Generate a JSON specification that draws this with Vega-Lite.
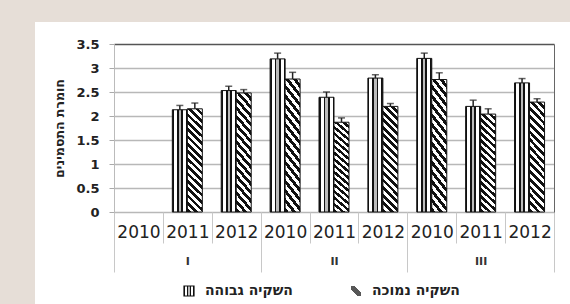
{
  "$schema": "https://vega.github.io/schema/vega-lite/v6.json",
  "width": 535,
  "height": 282,
  "autosize": {"type": "none"},
  "padding": {"left": 35, "top": 22, "right": 0, "bottom": 0},
  "background": "#e6ded7",
  "config": {"view": {"fill": "white", "stroke": null}, "font": "DejaVu Sans"},
  "data": {"values": [
    {"grp": "I", "cat": "I 2011", "s": "השקיה גבוהה", "v": 2.13, "hi": 2.22},
    {"grp": "I", "cat": "I 2011", "s": "השקיה נמוכה", "v": 2.15, "hi": 2.27},
    {"grp": "I", "cat": "I 2012", "s": "השקיה גבוהה", "v": 2.53, "hi": 2.62},
    {"grp": "I", "cat": "I 2012", "s": "השקיה נמוכה", "v": 2.48, "hi": 2.55},
    {"grp": "II", "cat": "II 2010", "s": "השקיה גבוהה", "v": 3.19, "hi": 3.31},
    {"grp": "II", "cat": "II 2010", "s": "השקיה נמוכה", "v": 2.77, "hi": 2.91},
    {"grp": "II", "cat": "II 2011", "s": "השקיה גבוהה", "v": 2.39, "hi": 2.5},
    {"grp": "II", "cat": "II 2011", "s": "השקיה נמוכה", "v": 1.87, "hi": 1.96},
    {"grp": "II", "cat": "II 2012", "s": "השקיה גבוהה", "v": 2.79, "hi": 2.86},
    {"grp": "II", "cat": "II 2012", "s": "השקיה נמוכה", "v": 2.2, "hi": 2.26},
    {"grp": "III", "cat": "III 2010", "s": "השקיה גבוהה", "v": 3.2, "hi": 3.31},
    {"grp": "III", "cat": "III 2010", "s": "השקיה נמוכה", "v": 2.76, "hi": 2.9},
    {"grp": "III", "cat": "III 2011", "s": "השקיה גבוהה", "v": 2.2, "hi": 2.33},
    {"grp": "III", "cat": "III 2011", "s": "השקיה נמוכה", "v": 2.04, "hi": 2.15},
    {"grp": "III", "cat": "III 2012", "s": "השקיה גבוהה", "v": 2.69, "hi": 2.78},
    {"grp": "III", "cat": "III 2012", "s": "השקיה נמוכה", "v": 2.29, "hi": 2.36}
  ]},
  "layer": [
    {
      "encoding": {
        "x": {
          "field": "cat", "type": "nominal",
          "scale": {"type": "band", "domain": ["I 2010", "I 2011", "I 2012", "II 2010", "II 2011", "II 2012", "III 2010", "III 2011", "III 2012"], "range": [79, 519], "paddingInner": 0, "paddingOuter": 0},
          "axis": {"orient": "bottom", "offset": -92, "title": null, "domain": false, "grid": false, "tickBand": "extent", "tickSize": 31, "tickColor": "#c8c8c8", "tickWidth": 1, "labelExpr": "slice(datum.label, -4)", "labelAngle": 0, "labelFont": "DejaVu Sans", "labelFontSize": 17, "labelColor": "#222", "labelPadding": -19}
        },
        "xOffset": {"field": "s", "type": "nominal", "scale": {"domain": ["השקיה גבוהה", "השקיה נמוכה"], "paddingInner": 0, "paddingOuter": 0.63}}
      },
      "layer": [
        {
          "mark": {"type": "bar", "strokeWidth": 1},
          "encoding": {
            "y": {
              "field": "v", "type": "quantitative",
              "scale": {"domain": [0, 3.5], "range": [190, 22], "nice": false, "zero": true},
              "axis": {"title": "חומרת התסמינים", "offset": -79, "values": [0, 0.5, 1, 1.5, 2, 2.5, 3, 3.5], "format": "~g", "grid": true, "gridColor": {"condition": {"test": "datum.value === 3.5", "value": "#555"}, "value": "#b8b8b8"}, "gridWidth": 1.5, "domain": true, "domainColor": "#bbb", "tickSize": 5, "tickColor": "#aaa", "labelFont": "DejaVu Sans", "labelFontWeight": "bold", "labelFontSize": 13, "labelColor": "#222", "labelPadding": 10, "titleFont": "DejaVu Sans", "titleFontWeight": "bold", "titleFontSize": 12.5, "titleColor": "#222", "titlePadding": 9}
            },
            "stroke": {
              "field": "s", "type": "nominal",
              "scale": {"domain": ["השקיה גבוהה", "השקיה נמוכה"], "range": ["#111", "#111"]},
              "legend": {
                "values": ["השקיה גבוהה"],
                "orient": "none", "legendX": 147, "legendY": 262, "direction": "horizontal", "title": null,
                "symbolType": "square", "symbolSize": 100, "symbolStrokeWidth": 1.2,
                "labelFont": "DejaVu Sans", "labelFontWeight": "bold", "labelFontSize": 14, "labelColor": "#222", "labelOffset": 9
              }
            },
            "fill": {
              "condition": {"test": "datum.s === 'השקיה נמוכה'", "value": {"gradient": "linear", "x1": 0, "y1": 1, "x2": 0.16, "y2": -0.12, "stops": [
                {"offset": 0, "color": "#111"}, {"offset": 0.03125, "color": "#111"}, {"offset": 0.03125, "color": "#fff"}, {"offset": 0.0625, "color": "#fff"},
                {"offset": 0.0625, "color": "#111"}, {"offset": 0.09375, "color": "#111"}, {"offset": 0.09375, "color": "#fff"}, {"offset": 0.125, "color": "#fff"},
                {"offset": 0.125, "color": "#111"}, {"offset": 0.15625, "color": "#111"}, {"offset": 0.15625, "color": "#fff"}, {"offset": 0.1875, "color": "#fff"},
                {"offset": 0.1875, "color": "#111"}, {"offset": 0.21875, "color": "#111"}, {"offset": 0.21875, "color": "#fff"}, {"offset": 0.25, "color": "#fff"},
                {"offset": 0.25, "color": "#111"}, {"offset": 0.28125, "color": "#111"}, {"offset": 0.28125, "color": "#fff"}, {"offset": 0.3125, "color": "#fff"},
                {"offset": 0.3125, "color": "#111"}, {"offset": 0.34375, "color": "#111"}, {"offset": 0.34375, "color": "#fff"}, {"offset": 0.375, "color": "#fff"},
                {"offset": 0.375, "color": "#111"}, {"offset": 0.40625, "color": "#111"}, {"offset": 0.40625, "color": "#fff"}, {"offset": 0.4375, "color": "#fff"},
                {"offset": 0.4375, "color": "#111"}, {"offset": 0.46875, "color": "#111"}, {"offset": 0.46875, "color": "#fff"}, {"offset": 0.5, "color": "#fff"},
                {"offset": 0.5, "color": "#111"}, {"offset": 0.53125, "color": "#111"}, {"offset": 0.53125, "color": "#fff"}, {"offset": 0.5625, "color": "#fff"},
                {"offset": 0.5625, "color": "#111"}, {"offset": 0.59375, "color": "#111"}, {"offset": 0.59375, "color": "#fff"}, {"offset": 0.625, "color": "#fff"},
                {"offset": 0.625, "color": "#111"}, {"offset": 0.65625, "color": "#111"}, {"offset": 0.65625, "color": "#fff"}, {"offset": 0.6875, "color": "#fff"},
                {"offset": 0.6875, "color": "#111"}, {"offset": 0.71875, "color": "#111"}, {"offset": 0.71875, "color": "#fff"}, {"offset": 0.75, "color": "#fff"},
                {"offset": 0.75, "color": "#111"}, {"offset": 0.78125, "color": "#111"}, {"offset": 0.78125, "color": "#fff"}, {"offset": 0.8125, "color": "#fff"},
                {"offset": 0.8125, "color": "#111"}, {"offset": 0.84375, "color": "#111"}, {"offset": 0.84375, "color": "#fff"}, {"offset": 0.875, "color": "#fff"},
                {"offset": 0.875, "color": "#111"}, {"offset": 0.90625, "color": "#111"}, {"offset": 0.90625, "color": "#fff"}, {"offset": 0.9375, "color": "#fff"},
                {"offset": 0.9375, "color": "#111"}, {"offset": 0.96875, "color": "#111"}, {"offset": 0.96875, "color": "#fff"}, {"offset": 1, "color": "#fff"}]}},
              "value": {"gradient": "linear", "x1": 0, "y1": 0, "x2": 1, "y2": 0, "stops": [
                {"offset": 0, "color": "#111"}, {"offset": 0.1, "color": "#111"}, {"offset": 0.1, "color": "#fff"}, {"offset": 0.3, "color": "#fff"}, {"offset": 0.3, "color": "#111"}, {"offset": 0.42, "color": "#111"}, {"offset": 0.42, "color": "#bbb"}, {"offset": 0.58, "color": "#bbb"}, {"offset": 0.58, "color": "#111"}, {"offset": 0.7, "color": "#111"}, {"offset": 0.7, "color": "#fff"}, {"offset": 0.9, "color": "#fff"}, {"offset": 0.9, "color": "#111"}, {"offset": 1, "color": "#111"}]}
            }
          }
        },
        {
          "mark": {"type": "rule", "color": "#222", "strokeWidth": 1.5},
          "encoding": {"y": {"field": "v", "type": "quantitative"}, "y2": {"field": "hi"}}
        },
        {
          "mark": {"type": "tick", "color": "#222", "thickness": 1.5, "size": 7},
          "encoding": {"y": {"field": "hi", "type": "quantitative"}}
        }
      ]
    },
    {
      "mark": {"type": "point", "filled": true, "size": 0, "strokeWidth": 1.2, "stroke": "#111", "fill": {"gradient": "linear", "x1": 0, "y1": 1, "x2": 1, "y2": 0, "stops": [
        {"offset": 0, "color": "#fff"}, {"offset": 0.33, "color": "#fff"}, {"offset": 0.33, "color": "#111"}, {"offset": 0.67, "color": "#111"}, {"offset": 0.67, "color": "#fff"}, {"offset": 1, "color": "#fff"}]}},
      "encoding": {
        "x": {
          "field": "grp", "type": "nominal",
          "scale": {"type": "band", "domain": ["I", "II", "III"], "range": [79, 519], "paddingInner": 0, "paddingOuter": 0},
          "axis": {"orient": "bottom", "offset": -92, "title": null, "domain": false, "grid": false, "tickBand": "extent", "tickSize": 60, "tickColor": "#c8c8c8", "tickWidth": 1, "labelAngle": 0, "labelFont": "DejaVu Sans", "labelFontWeight": "bold", "labelFontSize": 11, "labelColor": "#333", "labelPadding": -17}
        },
        "y": {
          "field": "v", "type": "quantitative",
          "scale": {"domain": [0, 3.5], "range": [190, 22], "nice": false},
          "axis": {"orient": "right", "offset": -16, "title": null, "labels": false, "ticks": false, "grid": false, "domain": true, "domainColor": "#666", "domainWidth": 1}
        },
        "shape": {
          "field": "s", "type": "nominal",
          "scale": {"domain": ["השקיה נמוכה"], "range": ["square"]},
          "legend": {
            "orient": "none", "legendX": 314, "legendY": 262, "direction": "horizontal", "title": null,
            "symbolSize": 100, "symbolStrokeWidth": 1.2, "symbolStrokeColor": "#111",
            "labelFont": "DejaVu Sans", "labelFontWeight": "bold", "labelFontSize": 14, "labelColor": "#222", "labelOffset": 9
          }
        }
      }
    }
  ],
  "resolve": {"scale": {"x": "independent", "y": "independent"}, "axis": {"x": "independent", "y": "independent"}}
}
